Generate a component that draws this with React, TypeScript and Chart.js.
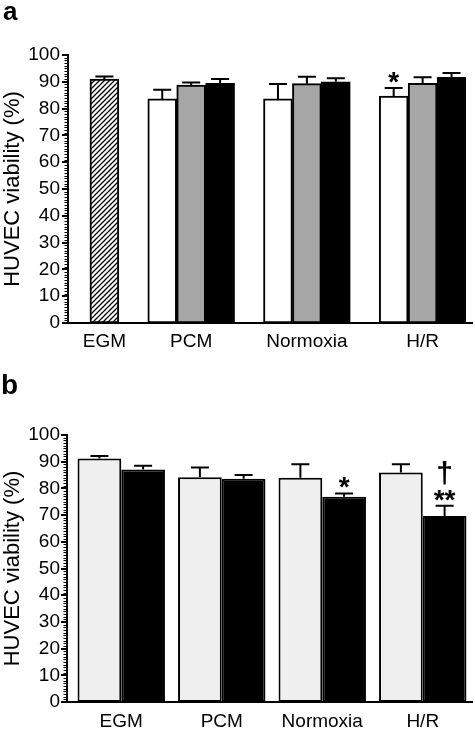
import React, { useEffect, useRef } from "react";
import { Chart, registerables } from "chart.js";

Chart.register(...registerables);

const FONT = "'Liberation Sans', Arial, Helvetica, sans-serif";

// ---------- Panel a data ----------
const groupsA = ["EGM", "PCM", "Normoxia", "H/R"];
const egmA = [91.0];
const egmErrA = [1.0];
const treatedGroupsA = ["PCM", "Normoxia", "H/R"];
const whiteA = [83.6, 83.6, 84.7];
const whiteErrA = [3.4, 5.6, 3.0];
const whiteMarksA = ["", "", "*"];
const grayA = [88.8, 89.3, 89.4];
const grayErrA = [0.9, 2.6, 2.3];
const blackA = [89.4, 90.0, 91.7];
const blackErrA = [1.6, 1.3, 1.6];

// ---------- Panel b data ----------
const groupsB = ["EGM", "PCM", "Normoxia", "H/R"];
const lightB = [91.2, 84.2, 84.0, 86.0];
const lightErrB = [0.9, 3.6, 5.0, 3.0];
const darkB = [87.1, 83.6, 76.9, 69.7];
const darkErrB = [1.4, 1.4, 1.2, 3.8];
const darkMarksB = [[], [], ["*"], ["**", "†"]];

// ---------- Axis ----------
const yMin = 0;
const yMax = 100;
const yStep = 10;
const yMinorStep = 1;
const yTitle = "HUVEC viability (%)";

type Slot = { label: string; series: number; value: number | null; err: number; marks: string[] };

function buildSlotsA(): Slot[] {
  const slots: Slot[] = [];
  const gap = () => slots.push({ label: "", series: -1, value: null, err: 0, marks: [] });
  gap();
  slots.push({ label: groupsA[0], series: 0, value: egmA[0], err: egmErrA[0], marks: [] });
  treatedGroupsA.forEach((g, k) => {
    gap();
    slots.push({ label: "", series: 1, value: whiteA[k], err: whiteErrA[k], marks: whiteMarksA[k] ? [whiteMarksA[k]] : [] });
    slots.push({ label: g, series: 2, value: grayA[k], err: grayErrA[k], marks: [] });
    slots.push({ label: "", series: 3, value: blackA[k], err: blackErrA[k], marks: [] });
  });
  return slots;
}

function makeHatch(): CanvasPattern | string {
  const c = document.createElement("canvas");
  c.width = 5;
  c.height = 5;
  const g = c.getContext("2d");
  if (!g) return "#888";
  g.fillStyle = "#fff";
  g.fillRect(0, 0, 5, 5);
  g.strokeStyle = "#000";
  g.lineWidth = 1.3;
  g.beginPath();
  g.moveTo(-1, 6);
  g.lineTo(6, -1);
  g.moveTo(-1, 1);
  g.lineTo(1, -1);
  g.moveTo(4, 6);
  g.lineTo(6, 4);
  g.stroke();
  return g.createPattern(c, "repeat") || "#888";
}

const errorBarPlugin = {
  id: "errorBars",
  afterDatasetsDraw(chart: any) {
    const ctx = chart.ctx;
    const y = chart.scales.y;
    const capHalf = 9;
    chart.data.datasets.forEach((ds: any, di: number) => {
      const meta = chart.getDatasetMeta(di);
      meta.data.forEach((el: any, i: number) => {
        const v = ds.data[i];
        if (v == null) return;
        const err = (ds.errors && ds.errors[i]) || 0;
        const x = el.x;
        const yTop = y.getPixelForValue(v);
        const yE = y.getPixelForValue(v + err);
        ctx.save();
        ctx.strokeStyle = "#000";
        ctx.lineWidth = 2;
        ctx.beginPath();
        ctx.moveTo(x, yTop);
        ctx.lineTo(x, yE);
        ctx.moveTo(x - capHalf, yE);
        ctx.lineTo(x + capHalf, yE);
        ctx.stroke();
        const marks: string[] = (ds.marks && ds.marks[i]) || [];
        let bottom = yE - 5;
        for (const t of marks) {
          ctx.font = t === "†" ? `bold 30px ${FONT}` : `bold 28px ${FONT}`;
          ctx.textAlign = "center";
          ctx.textBaseline = "alphabetic";
          ctx.fillStyle = "#000";
          const m = ctx.measureText(t);
          const base = bottom - m.actualBoundingBoxDescent;
          ctx.fillText(t, x, base);
          bottom = base - m.actualBoundingBoxAscent - 5;
        }
        ctx.restore();
      });
    });
  },
};

// Draws the axis lines (y line shifted by `shift` px from the chart-area edge) and the
// major/minor tick marks of the y scale.
const axesPlugin = {
  id: "axesLines",
  afterDraw(chart: any, _args: any, opts: any) {
    const ctx = chart.ctx;
    const y = chart.scales.y;
    const { left, right, top, bottom } = chart.chartArea;
    const ax = left + (opts.shift || 0);
    ctx.save();
    ctx.strokeStyle = "#000";
    ctx.lineWidth = 2;
    ctx.beginPath();
    ctx.moveTo(ax, top - 1);
    ctx.lineTo(ax, bottom);
    ctx.moveTo(ax - 1, bottom);
    ctx.lineTo(right + (opts.extend || 0), bottom);
    ctx.stroke();
    for (let v = yMin; v <= yMax; v += yMinorStep) {
      const major = v % yStep === 0;
      const p = y.getPixelForValue(v);
      ctx.lineWidth = major ? 2 : 1;
      const py = major ? Math.round(p) : Math.round(p) + 0.5;
      ctx.beginPath();
      ctx.moveTo(ax - (major ? 6 : 3.5), py);
      ctx.lineTo(ax, py);
      ctx.stroke();
    }
    ctx.restore();
  },
};

function yScale(axisWidth: number, pad: number) {
  return {
    min: yMin,
    max: yMax,
    ticks: { stepSize: yStep, color: "#000", font: { family: FONT, size: 19 }, padding: pad },
    grid: { display: false, drawTicks: false },
    border: { display: false },
    title: { display: true, text: yTitle, color: "#000", font: { family: FONT, size: 22 }, padding: 0 },
    afterFit: (s: any) => {
      s.width = axisWidth;
    },
  };
}

function xScale(axisHeight: number, pad: number) {
  return {
    grid: { display: false, drawTicks: false },
    border: { display: false },
    ticks: { color: "#000", font: { family: FONT, size: 19 }, padding: pad, autoSkip: false, maxRotation: 0, minRotation: 0 },
    afterFit: (s: any) => {
      s.height = axisHeight;
    },
  };
}

function PanelA() {
  const ref = useRef<HTMLCanvasElement>(null);
  useEffect(() => {
    if (!ref.current) return;
    const slots = buildSlotsA();
    const fills: any[] = [makeHatch(), "#ffffff", "#a6a6a6", "#000000"];
    const datasets = [0, 1, 2, 3].map((s) => ({
      data: slots.map((sl) => (sl.series === s ? sl.value : null)),
      errors: slots.map((sl) => (sl.series === s ? sl.err : 0)),
      marks: slots.map((sl) => (sl.series === s ? sl.marks : [])),
      backgroundColor: fills[s],
      borderColor: "#000",
      borderWidth: 2,
      borderSkipped: false,
      grouped: false,
      barPercentage: 1,
      categoryPercentage: 1,
    }));
    const chart = new Chart(ref.current, {
      type: "bar",
      data: { labels: slots.map((s) => s.label), datasets: datasets as any },
      options: {
        animation: false,
        responsive: false,
        layout: { padding: { top: 55, right: 9, left: 0, bottom: 0 } },
        plugins: {
          legend: { display: false },
          tooltip: { enabled: false },
          axesLines: { shift: 7, extend: 7 },
        } as any,
        scales: { x: xScale(37, 7) as any, y: yScale(61, 1) as any },
      },
      plugins: [errorBarPlugin, axesPlugin],
    });
    return () => chart.destroy();
  }, []);
  return <canvas ref={ref} width={475} height={360} style={{ display: "block", position: "absolute", left: 0, top: 0 }} />;
}

function PanelB() {
  const ref = useRef<HTMLCanvasElement>(null);
  useEffect(() => {
    if (!ref.current) return;
    const common = {
      borderColor: "#000",
      borderWidth: 2,
      borderSkipped: false,
      barPercentage: 1,
      categoryPercentage: 0.87,
    };
    const chart = new Chart(ref.current, {
      type: "bar",
      data: {
        labels: groupsB,
        datasets: [
          { ...common, data: lightB, errors: lightErrB, marks: groupsB.map(() => []), backgroundColor: "#efefef" },
          { ...common, data: darkB, errors: darkErrB, marks: darkMarksB, backgroundColor: "#000000" },
        ] as any,
      },
      options: {
        animation: false,
        responsive: false,
        layout: { padding: { top: 75, right: 2, left: 0, bottom: 0 } },
        plugins: {
          legend: { display: false },
          tooltip: { enabled: false },
          axesLines: { shift: -4, extend: 0 },
        } as any,
        scales: { x: xScale(27, 8) as any, y: yScale(71, 11) as any },
      },
      plugins: [errorBarPlugin, axesPlugin],
    });
    return () => chart.destroy();
  }, []);
  return <canvas ref={ref} width={475} height={369} style={{ display: "block", position: "absolute", left: 0, top: 360 }} />;
}

export default function App() {
  const label: React.CSSProperties = {
    position: "absolute",
    fontFamily: FONT,
    fontWeight: "bold",
    lineHeight: 1,
    color: "#000",
  };
  return (
    <div style={{ position: "absolute", left: 0, top: 0, width: 475, height: 729, background: "#fff", overflow: "hidden" }}>
      <PanelA />
      <PanelB />
      <span style={{ ...label, left: 3, top: -2, fontSize: 26 }}>a</span>
      <span style={{ ...label, left: 1, top: 371, fontSize: 28 }}>b</span>
    </div>
  );
}
